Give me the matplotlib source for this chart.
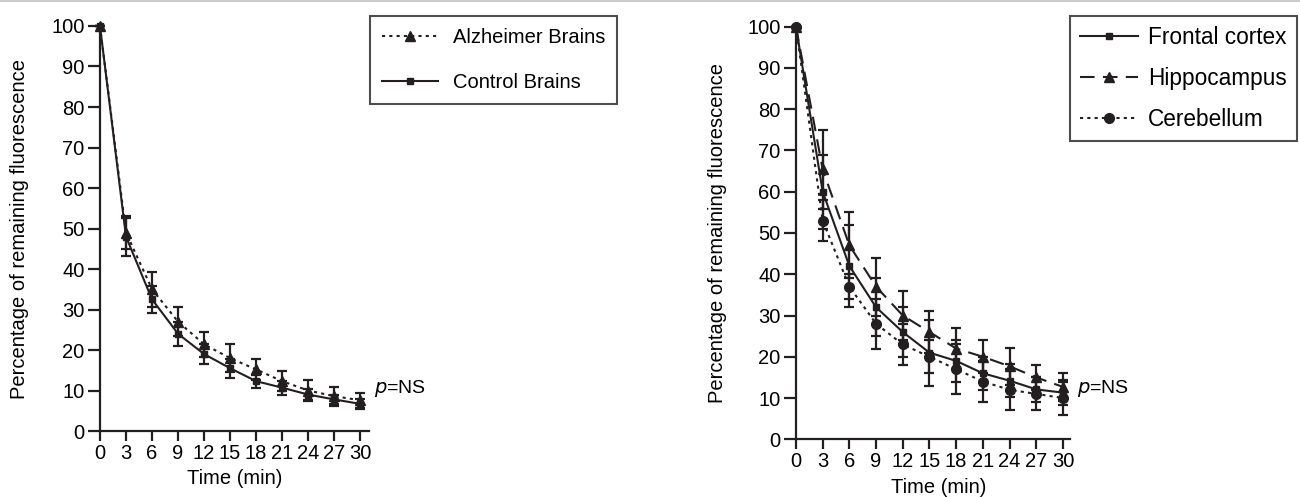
import matplotlib.pyplot as plt
from matplotlib.lines import Line2D

plt.rcParams['font.family'] = ['Liberation Sans', 'DejaVu Sans']
plt.rcParams['font.size'] = 14.5

# time points (min)
time = [0, 3, 6, 9, 12, 15, 18, 21, 24, 27, 30]

# left panel
alz = [100, 49, 35, 27, 21.4, 18, 15.2, 12.3, 10, 8.6, 7.6]
alz_err = [0, 4, 4.3, 3.6, 3.1, 3.5, 2.6, 2.5, 2.6, 2.3, 1.9]
ctrl = [100, 48, 32.5, 24, 19, 15.5, 12.3, 10.7, 9, 7.8, 6.7]
ctrl_err = [0, 4.7, 3.3, 3, 2.5, 2.3, 1.6, 1.7, 1.4, 1.2, 1.2]

# right panel
frontal = [100, 60, 42, 32, 26, 21, 19, 16, 14.2, 12.1, 11.3]
frontal_err = [0, 9, 10, 7, 6, 8, 5, 4, 4, 3, 3]
hippo = [100, 65.4, 47, 37, 30, 26, 22, 20, 17.7, 15, 12.7]
hippo_err = [0, 9.5, 8, 7, 6, 5, 5, 4, 4.5, 3, 3.3]
cereb = [100, 53, 37, 28, 23, 20, 17, 14, 12, 11, 10]
cereb_err = [0, 5, 3, 6, 5, 4, 6, 5, 5, 4, 4]

k = '#231f20'
ylab = 'Percentage of remaining fluorescence'

fig = plt.figure(figsize=(13, 4.98), dpi=100)
fig.add_artist(Line2D([0, 1], [0.997, 0.997], color='#cccccc', lw=1.5))

ax1 = fig.add_axes([0.0769, 0.1345, 0.2069, 0.8133])
ax2 = fig.add_axes([0.6123, 0.1179, 0.2108, 0.8285])


def style(ax, xmax, xlab_x, ylab_x):
    ax.set_xlim(0, xmax)
    ax.set_ylim(0, 100)
    ax.set_xticks(time)
    ax.set_yticks(range(0, 101, 10))
    ax.spines['top'].set_visible(False)
    ax.spines['right'].set_visible(False)
    for s in ['left', 'bottom']:
        ax.spines[s].set_linewidth(1.6)
        ax.spines[s].set_color(k)
    ax.tick_params(direction='out', width=1.6, color=k, pad=2)
    ax.tick_params(axis='y', length=9)
    ax.tick_params(axis='x', length=7)
    ax.set_xlabel('Time (min)')
    ax.set_ylabel(ylab)
    ax.yaxis.set_label_coords(ylab_x, 0.5)
    ax.xaxis.set_label_coords(xlab_x, -0.095)


eb = dict(ecolor=k, elinewidth=1.6, capsize=3.5, capthick=1.6, color=k, lw=1.5, clip_on=False)
leg = dict(loc='upper left', bbox_transform=fig.transFigure, frameon=True, fancybox=False,
           edgecolor=k, borderaxespad=0)

ax1.errorbar(time, alz, yerr=alz_err, ls=(0, (1.5, 2)), marker='^', ms=6.5,
             label='Alzheimer Brains', **eb)
ax1.errorbar(time, ctrl, yerr=ctrl_err, ls='-', marker='s', ms=5,
             label='Control Brains', **eb)
style(ax1, 31, 0.5, -0.265)
ax1.text(31.6, 10.5, r'$p$=NS', va='center', ha='left', fontsize=14)
h, l = ax1.get_legend_handles_labels()
lg = ax1.legend([x[0] for x in h], l, bbox_to_anchor=(370 / 1300, 1 - 16 / 498),
                labelspacing=1.3, borderpad=0.6, handlelength=2.8, handletextpad=0.7, **leg)
lg.get_frame().set_linewidth(1.5)

ax2.errorbar(time, frontal, yerr=frontal_err, ls='-', marker='s', ms=5,
             label='Frontal cortex', **eb)
ax2.errorbar(time, hippo, yerr=hippo_err, ls=(0, (7, 4)), marker='^', ms=6.5,
             label='Hippocampus', **eb)
ax2.errorbar(time, cereb, yerr=cereb_err, ls=(0, (1.5, 2)), marker='o', ms=7,
             label='Cerebellum', **eb)
style(ax2, 30.8, 0.52, -0.25)
ax2.text(31.6, 12.4, r'$p$=NS', va='center', ha='left', fontsize=14)
h, l = ax2.get_legend_handles_labels()
lg = ax2.legend([x[0] for x in h], l, bbox_to_anchor=(1070 / 1300, 1 - 16 / 498),
                labelspacing=0.78, borderpad=0.45, handlelength=2.55, handletextpad=0.45,
                fontsize=16.3, **leg)
lg.get_frame().set_linewidth(1.5)

fig.savefig('out.png', dpi=100)
